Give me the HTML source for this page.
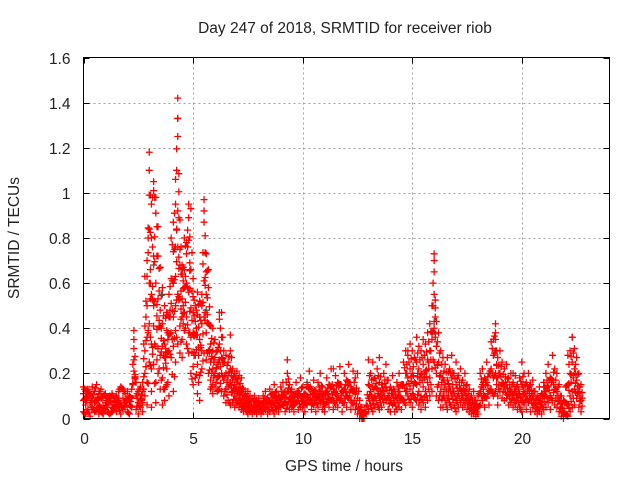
<!DOCTYPE html>
<html><head><meta charset="utf-8"><style>
html,body{margin:0;padding:0;background:#fff;}
svg{display:block;font-family:"Liberation Sans",sans-serif;}
</style></head><body>
<svg id="chart" width="640" height="480" viewBox="0 0 640 480" xmlns="http://www.w3.org/2000/svg">
<rect width="640" height="480" fill="#fff"/>
<text x="345" y="33" font-size="15.5" text-anchor="middle" fill="#222">Day 247 of 2018, SRMTID for receiver riob</text>
<text x="344" y="471" font-size="15.5" text-anchor="middle" fill="#222">GPS time / hours</text>
<text x="19" y="238" font-size="15.5" text-anchor="middle" fill="#222" transform="rotate(-90 19 238)">SRMTID / TECUs</text>
<g id="grid"></g><g id="ticks"></g><g id="marks"></g>
<rect x="83.5" y="57.5" width="526" height="361" fill="none" stroke="#000" stroke-width="1"/>
</svg>
<script>
const xTicks = [0,5,10,15,20];
const yTicks = [0,0.2,0.4,0.6,0.8,1,1.2,1.4,1.6];
const yTickLabels = ["0","0.2","0.4","0.6","0.8","1","1.2","1.4","1.6"];
const redT = [0.0,0.1,0.2,0.3,0.4,0.5,0.6,0.7,0.8,0.9,1.0,1.1,1.2,1.3,1.4,1.5,1.6,1.7,1.8,1.9,2.0,2.1,2.2,2.3,2.4,2.5,2.6,2.7,2.8,2.9,3.0,3.1,3.2,3.3,3.4,3.5,3.6,3.7,3.8,3.9,4.0,4.1,4.2,4.3,4.4,4.5,4.6,4.7,4.8,4.9,5.0,5.1,5.2,5.3,5.4,5.5,5.6,5.7,5.8,5.9,6.0,6.1,6.2,6.3,6.4,6.5,6.6,6.7,6.8,6.9,7.0,7.1,7.2,7.3,7.4,7.5,7.6,7.7,7.8,7.9,8.0,8.1,8.2,8.3,8.4,8.5,8.6,8.7,8.8,8.9,9.0,9.1,9.2,9.3,9.4,9.5,9.6,9.7,9.8,9.9,10.0,10.1,10.2,10.3,10.4,10.5,10.6,10.7,10.8,10.9,11.0,11.1,11.2,11.3,11.4,11.5,11.6,11.7,11.8,11.9,12.0,12.1,12.2,12.3,12.4,12.5,12.6,12.7,12.8,12.9,13.0,13.1,13.2,13.3,13.4,13.5,13.6,13.7,13.8,13.9,14.0,14.1,14.2,14.3,14.4,14.5,14.6,14.7,14.8,14.9,15.0,15.1,15.2,15.3,15.4,15.5,15.6,15.7,15.8,15.9,16.0,16.1,16.2,16.3,16.4,16.5,16.6,16.7,16.8,16.9,17.0,17.1,17.2,17.3,17.4,17.5,17.6,17.7,17.8,17.9,18.0,18.1,18.2,18.3,18.4,18.5,18.6,18.7,18.8,18.9,19.0,19.1,19.2,19.3,19.4,19.5,19.6,19.7,19.8,19.9,20.0,20.1,20.2,20.3,20.4,20.5,20.6,20.7,20.8,20.9,21.0,21.1,21.2,21.3,21.4,21.5,21.6,21.7,21.8,21.9,22.0,22.1,22.2,22.3,22.4,22.5,22.6,22.7];
const redV = [
[.14,.03,.08,.11],[.06,.12,.02,.09],[.04,.1,.13],[.07,.01,.11],[.05,.14,.09],[.12,.03,.07],[.08,.15,.04],[.06,.11,.02],[.09,.03,.13],[.05,.1,.02],
[.07,.04,.11],[.03,.09,.06],[.08,.02,.1],[.05,.11,.03],[.07,.04,.09],[.1,.03,.06],[.12,.05,.08],[.06,.14,.02],[.09,.04,.13],[.11,.05,.07],
[.08,.03,.12],[.06,.1,.02],[.13,.05,.09],[.39,.35,.26,.21,.31],[.1,.16,.04],[.07,.12,.02],[.09,.05,.14],[.12,.07,.16,.03],[.2,.41,.3,.1,.63],[.5,.7,.63,.16,.36,.06],
[1.18,1.1,.99,.84,.6,.42,.25],[.95,.8,.55,.33,.22,.12,.05],[1.05,1.01,.72,.5,.24,.41],[.98,.91,.6,.32,.16,.07],[.85,.72,.53,.31,.2],[.67,.48,.41,.28,.13],[.58,.42,.32,.18,.06],[.5,.33,.27,.13,.08],[.47,.39,.29,.22,.15],[.55,.45,.37,.3,.1],
[.8,.62,.51,.38,.27],[.87,.74,.6,.45,.32,.12],[1.06,.95,.76,.63,.5,.39,.25],[1.42,1.33,1.25,.92,.76,.55,.33],[.88,.75,.68,.53,.41,.29],[.68,.64,.53,.45,.35,.27],[.8,.66,.58,.47,.39],[.78,.73,.6,.45,.33],[.95,.89,.79,.56,.38,.29],[.93,.66,.49,.36,.2],
[.62,.54,.47,.38,.23,.15],[.5,.43,.37,.28,.18],[.56,.46,.37,.24,.11],[.52,.45,.35,.19,.08],[.55,.5,.42,.3,.22],[.97,.92,.87,.61,.45,.29],[.73,.65,.55,.38,.26],[.66,.58,.42,.3,.2],[.41,.33,.25,.17,.13],[.4,.3,.22,.15,.11],
[.35,.27,.2,.14],[.3,.24,.18,.12],[.44,.33,.26,.19,.13],[.47,.36,.27,.2,.12],[.3,.25,.17,.1],[.28,.2,.13,.07],[.25,.19,.14,.08],[.37,.3,.22,.16,.06],[.22,.17,.12,.07],[.2,.15,.1,.05],
[.21,.16,.11,.06],[.19,.14,.09,.05],[.18,.12,.07,.04],[.13,.09,.05,.03],[.11,.07,.04],[.12,.08,.05,.02],[.1,.06,.03],[.09,.05,.02],[.1,.06,.03],[.08,.05,.02],
[.09,.06,.03],[.07,.04,.02],[.1,.06,.03],[.12,.08,.04],[.09,.05,.02],[.13,.07,.03],[.11,.08,.05],[.15,.1,.06,.02],[.12,.08,.04],[.1,.06,.03],
[.14,.09,.05],[.16,.1,.06],[.12,.07,.03],[.26,.2,.12,.06],[.15,.09,.04],[.13,.08,.05],[.1,.06,.03],[.16,.11,.07],[.12,.08,.04],[.18,.1,.05],
[.14,.09,.05],[.11,.07,.03],[.15,.1,.06],[.21,.13,.08],[.13,.07,.04],[.17,.11,.06],[.12,.08,.03],[.16,.1,.05],[.2,.12,.07],[.14,.09,.04],
[.11,.06,.03],[.18,.12,.07],[.15,.09,.05],[.22,.14,.08],[.13,.08,.04],[.19,.11,.06],[.16,.1,.05],[.23,.15,.08],[.12,.07,.03],[.2,.13,.07],
[.17,.1,.05],[.24,.16,.09],[.14,.08,.04],[.21,.12,.06],[.18,.11,.04],[.2,.09,.02],[.08,.04,0],[.05,.02,0],[.03,0],[.06,.02],
[.26,.15,.09,.04],[.2,.12,.06],[.25,.14,.08,.03],[.18,.1,.05],[.22,.13,.06],[.27,.16,.09,.04],[.15,.1,.05],[.2,.12,.07],[.24,.14,.08],[.17,.1,.04],
[.14,.08,.03],[.19,.11,.06],[.12,.07,.03],[.16,.09,.04],[.2,.12,.05],[.15,.09,.04],[.25,.15,.08],[.3,.2,.12,.06],[.28,.18,.1],[.33,.22,.13,.07],
[.3,.2,.11,.05],[.27,.16,.09],[.36,.25,.15,.08],[.32,.22,.12,.06],[.3,.2,.1,.04],[.35,.24,.14,.07],[.33,.21,.12,.05],[.38,.26,.16,.08],[.42,.3,.18,.1],[.5,.35,.22,.12],
[.73,.7,.65,.55,.4,.25],[.43,.32,.2,.1],[.38,.25,.15,.08],[.3,.2,.12,.05],[.27,.18,.1,.05],[.24,.15,.08],[.27,.17,.09,.04],[.22,.14,.07],[.28,.18,.1,.05],[.2,.12,.06],
[.25,.15,.08,.03],[.19,.11,.05],[.22,.13,.07],[.17,.1,.05],[.2,.12,.06],[.15,.09,.04],[.13,.07,.03],[.1,.05,.02],[.12,.06,.02],[.08,.04,.01],
[.1,.05,.02],[.2,.12,.06],[.22,.15,.08],[.18,.1,.05],[.25,.16,.09],[.2,.12,.06],[.34,.22,.13],[.35,.28,.18,.1],[.42,.38,.3,.2,.12],[.27,.18,.1,.06],
[.3,.2,.12],[.25,.16,.09],[.22,.14,.08],[.24,.15,.09],[.18,.11,.06],[.2,.12,.07],[.16,.1,.05],[.19,.12,.06],[.15,.09,.04],[.18,.11,.05],
[.25,.15,.08,.03],[.2,.12,.06],[.16,.1,.04],[.2,.13,.07],[.15,.09,.03],[.17,.1,.05],[.12,.07,.03],[.1,.05,.02],[.14,.08,.03],[.11,.06,.02],
[.16,.1,.04],[.2,.12,.05],[.24,.14,.07],[.18,.1,.04],[.28,.17,.08],[.22,.13,.06],[.2,.12,.05],[.15,.08,.03],[.1,.05,.01],[.08,.03,0],
[.14,.07,.02],[.28,.15,.06,.01],[.3,.2,.1,.03],[.36,.25,.12,.05],[.31,.22,.13,.06],[.27,.17,.09],[.2,.12,.05],[.15,.08,.03]
];
const grayT = [3.0,3.2,3.6,4.1,4.3,4.5,5.6,6.2,9.5,10.2,11.4,13.3,14.8,15.9,16.0,18.8,19.6,21.0,22.3];
const grayV = [0.84,0.68,0.55,0.6,1.33,0.66,0.48,0.47,0.12,0.16,0.22,0.14,0.3,0.38,0.43,0.35,0.2,0.14,0.36];

const X0=83.5, X1=609.5, Y0=418.5, Y1=57.5, XMAX=24, YMAX=1.6;
function xs(t){return X0+(X1-X0)*t/XMAX;}
function ys(v){return Y0-(Y0-Y1)*v/YMAX;}
const NS="http://www.w3.org/2000/svg";
function mk(tag,attrs,parent){const e=document.createElementNS(NS,tag);for(const k in attrs)e.setAttribute(k,attrs[k]);parent.appendChild(e);return e;}
const grid=document.getElementById('grid'), ticks=document.getElementById('ticks'), marks=document.getElementById('marks');

yTicks.forEach((v,i)=>{
  const y=Math.round(ys(v))+0.5;
  if(v>0&&v<YMAX){const g=mk('line',{x1:X0,x2:X1,y1:y,y2:y,stroke:'#a0a0a0','stroke-dasharray':'2,3'},grid);
  
  }
  mk('line',{x1:X0,x2:X0+6,y1:y,y2:y,stroke:'#000'},ticks);
  mk('line',{x1:X1-6,x2:X1,y1:y,y2:y,stroke:'#000'},ticks);
  const t=mk('text',{x:X0-13,y:y+5.5,'font-size':15.5,'text-anchor':'end',fill:'#222'},ticks);
  t.textContent=yTickLabels[i];
  
  
});
xTicks.forEach(v=>{
  const x=Math.round(xs(v))+0.5;
  if(v>0){const g=mk('line',{x1:x,x2:x,y1:Y1,y2:Y0,stroke:'#a0a0a0','stroke-dasharray':'2,3'},grid);
  
  }
  mk('line',{x1:x,x2:x,y1:Y0,y2:Y0-6,stroke:'#000'},ticks);
  mk('line',{x1:x,x2:x,y1:Y1,y2:Y1+6,stroke:'#000'},ticks);
  const t=mk('text',{x:x,y:444,'font-size':15.5,'text-anchor':'middle',fill:'#222'},ticks);
  t.textContent=String(v);
  
  
});
function plus(t,v,color,name){
  const x=xs(t), y=ys(v);
  const p=mk('path',{d:`M${x-3.5} ${y}H${x+3.5}M${x} ${y-3.5}V${y+3.5}`,stroke:color,'stroke-width':1.3,fill:'none'},marks);
  
  
}
grayT.forEach((t,i)=>plus(t,grayV[i],'#555','gray-point'));
redT.forEach((t,i)=>{
  const cur=redV[i], nxt=redV[i+1]||cur;
  cur.forEach(v=>plus(t,v,'#ff0000','red-point'));
  cur.forEach((v,k)=>{const w=nxt[(k+1)%nxt.length];plus(t+0.05,(v+w)/2,'#ff0000','red-point');});
});
</script>
</body></html>
